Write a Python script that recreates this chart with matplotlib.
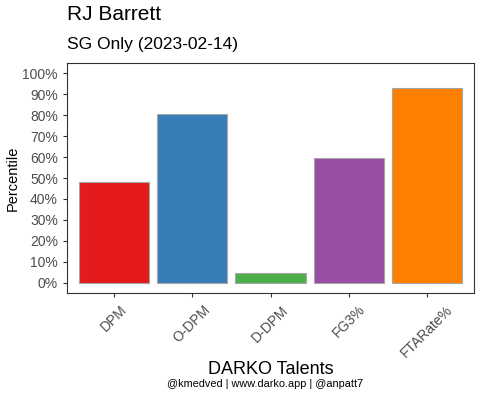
import numpy as np
import matplotlib
matplotlib.use("Agg")
import matplotlib.pyplot as plt
from matplotlib.ticker import PercentFormatter

plt.rcParams['font.family'] = ['Liberation Sans', 'DejaVu Sans']

# data
talents = ['DPM', 'O-DPM', 'D-DPM', 'FG3%', 'FTARate%']
percentiles = [0.48, 0.805, 0.047, 0.595, 0.927]
colors = ['#E41A1C', '#377EB8', '#4DAF4A', '#984EA3', '#FF7F00']
yticks = np.arange(0, 1.01, 0.1)

fig = plt.figure(figsize=(4.8, 3.94), dpi=100)
ax = fig.add_axes([67 / 480, 1 - 293 / 394, 407 / 480, 230 / 394])

x = np.arange(len(talents))
ax.bar(x, percentiles, width=0.9, color=colors, edgecolor='#A6A6A6', linewidth=0.8)

ax.set_xlim(-0.6, len(talents) - 0.4)
ax.set_ylim(-0.048, 1.048)
ax.set_yticks(yticks)
ax.yaxis.set_major_formatter(PercentFormatter(1.0, decimals=0))
ax.set_xticks(x)
ax.set_xticklabels(talents, rotation=45, ha='center', va='top')

ax.tick_params(colors='#333333', labelcolor='#4D4D4D', labelsize=10, length=3, width=0.8)
ax.tick_params(axis='x', pad=4)
for s in ax.spines.values():
    s.set_color('#333333')
    s.set_linewidth(0.8)

ax.set_ylabel('Percentile', fontsize=10.5, labelpad=2)
ax.set_xlabel('DARKO Talents', fontsize=13, labelpad=1)

fig.text(67 / 480, 1 - 15 / 394, 'RJ Barrett', fontsize=15, va='center', ha='left')
fig.text(67 / 480, 1 - 44 / 394, 'SG Only (2023-02-14)', fontsize=12.5, va='center', ha='left')
fig.text(265 / 480, 1 - 384 / 394, '@kmedved | www.darko.app | @anpatt7', fontsize=7.8,
         va='center', ha='center')

fig.savefig('out.png', dpi=100)
